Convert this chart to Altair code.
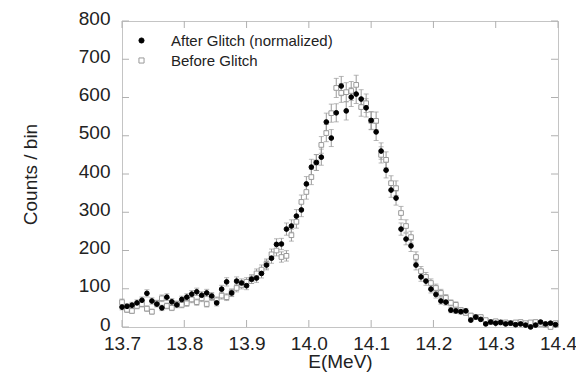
import altair as alt
import pandas as pd
import numpy as np

# bin centres (MeV)
energy = [round(13.700 + 0.008 * i, 3) for i in range(88)]

after_counts = [52, 54, 57, 63, 70, 88, 68, 60, 50, 78, 66, 58, 72, 78, 86, 92, 83, 89, 81, 63,
                99, 118, 89, 120, 115, 108, 125, 128, 140, 162, 180, 216, 217, 256, 264, 290, 306, 374, 418, 430,
                444, 536, 494, 560, 630, 565, 601, 609, 596, 573, 540, 510, 460, 410, 358, 337, 256, 230, 212, 162,
                131, 120, 99, 85, 68, 65, 44, 42, 40, 42, 18, 26, 20, 8, 13, 10, 12, 8, 10, 6,
                8, 5, 0, 5, 13, 8, 10, 6]

before_counts = [65, 45, 42, 55, 60, 48, 40, 62, 75, 55, 50, 60, 58, 62, 72, 65, 75, 60, 78, 70,
                 82, 78, 90, 102, 110, 118, 125, 140, 150, 165, 190, 200, 183, 186, 240, 275, 327, 353, 392, 430,
                 476, 507, 559, 625, 612, 614, 617, 633, 575, 585, 539, 539, 450, 437, 376, 363, 298, 264, 235, 183,
                 146, 131, 115, 102, 89, 76, 63, 58, 44, 37, 30, 26, 26, 18, 13, 15, 12, 12, 10, 12,
                 13, 10, 12, 13, 8, 6, 0, 10]

series_names = ["After Glitch (normalized)", "Before Glitch"]
x_ticks = [13.7, 13.8, 13.9, 14.0, 14.1, 14.2, 14.3, 14.4]
y_ticks = [0, 100, 200, 300, 400, 500, 600, 700, 800]

rows = []
# "Before" drawn first so the filled dots sit on top
for name, vals in [(series_names[1], before_counts), (series_names[0], after_counts)]:
    for e, v in zip(energy, vals):
        err = float(np.sqrt(max(v, 0)))
        rows.append({"E": e, "counts": v, "lo": v - err, "hi": v + err, "series": name})
df = pd.DataFrame(rows)
xt = pd.DataFrame({"t": x_ticks})
yt = pd.DataFrame({"t": y_ticks})

W, H, TK = 436, 306, 7
FONT = "Liberation Sans"
TICK_COLOR = "#b0b0b0"
xscale = alt.Scale(domain=[13.7, 14.4], nice=False, zero=False)
yscale = alt.Scale(domain=[0, 800], nice=False)

axis_common = dict(ticks=False, tickSize=0, domain=False, grid=False,
                   labelFont=FONT, titleFont=FONT, labelColor="#222222", titleColor="#222222",
                   titleFontWeight="normal", labelOverlap=False)

x_main = alt.Axis(values=x_ticks, format=".1f", orient="bottom", title="E(MeV)",
                  labelFontSize=19, titleFontSize=19, labelPadding=7, titleY=25,
                  labelFlush=False, **axis_common)
y_main = alt.Axis(values=y_ticks, format="d", orient="left", title="Counts / bin",
                  labelFontSize=19, titleFontSize=19, labelPadding=12, titlePadding=38,
                  labelOffset=-3, **axis_common)


def X(field):
    return alt.X(field, scale=xscale, axis=x_main)


def Y(field):
    return alt.Y(field, scale=yscale, axis=y_main)


# inward tick marks on all four sides
xt_bottom = alt.Chart(xt).mark_rule(color=TICK_COLOR, strokeWidth=1).encode(
    x=X("t:Q"), y=alt.value(H), y2=alt.value(H - TK))
xt_top = alt.Chart(xt).mark_rule(color=TICK_COLOR, strokeWidth=1).encode(
    x=X("t:Q"), y=alt.value(0), y2=alt.value(TK))
yt_left = alt.Chart(yt).mark_rule(color=TICK_COLOR, strokeWidth=1).encode(
    y=Y("t:Q"), x=alt.value(0), x2=alt.value(TK))
yt_right = alt.Chart(yt).mark_rule(color=TICK_COLOR, strokeWidth=1).encode(
    y=Y("t:Q"), x=alt.value(W), x2=alt.value(W - TK))

bars = alt.Chart(df).mark_rule(color="#9a9a9a", strokeWidth=1).encode(
    x=X("E:Q"), y=Y("lo:Q"), y2="hi:Q",
)
caps_hi = alt.Chart(df).mark_tick(color="#9a9a9a", thickness=1, size=5, orient="horizontal").encode(
    x=X("E:Q"), y=Y("hi:Q"),
)
caps_lo = alt.Chart(df).mark_tick(color="#9a9a9a", thickness=1, size=5, orient="horizontal").encode(
    x=X("E:Q"), y=Y("lo:Q"),
)
points = alt.Chart(df).mark_point(filled=False, size=22, strokeWidth=1, opacity=1).encode(
    x=X("E:Q"), y=Y("counts:Q"),
    shape=alt.Shape("series:N", scale=alt.Scale(domain=series_names, range=["circle", "square"]),
                    title=None),
    color=alt.Color("series:N", scale=alt.Scale(domain=series_names, range=["#000000", "#9a9a9a"]),
                    title=None),
    fill=alt.Fill("series:N", scale=alt.Scale(domain=series_names, range=["#000000", "#ffffff"]),
                  title=None),
)

chart = alt.layer(xt_bottom, xt_top, yt_left, yt_right, bars, caps_hi, caps_lo, points).properties(
    width=W, height=H,
    autosize=alt.AutoSizeParams(type="none"),
    padding={"left": 114, "top": 13, "right": 18, "bottom": 50},
).configure_view(
    stroke="#c4c4c4", strokeWidth=1
).configure_legend(
    orient="none", legendX=12, legendY=12, padding=0,
    labelFont=FONT, labelFontSize=15, labelColor="#222222", labelLimit=400,
    labelOffset=22, rowPadding=4, symbolSize=26, symbolStrokeWidth=1,
)

chart.save("out.html", embed_options={"renderer": "svg", "actions": False})
